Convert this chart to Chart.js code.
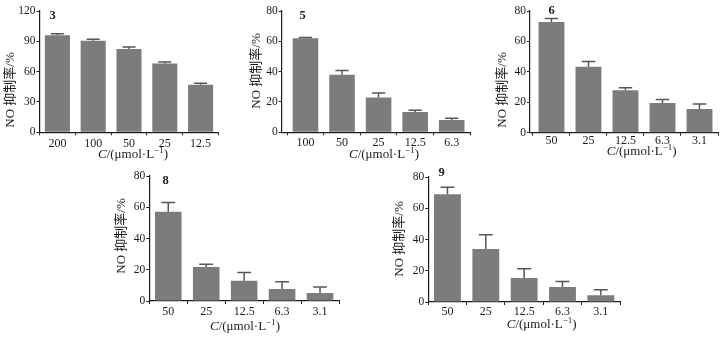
<!DOCTYPE html>
<html>
<head>
<meta charset="utf-8">
<script src="https://cdn.jsdelivr.net/npm/chart.js@4.4.0/dist/chart.umd.min.js"></script>
<style>
  html, body { margin: 0; padding: 0; background: #fff; }
  #wrap { position: relative; width: 723px; height: 340px; overflow: hidden; }
  #wrap canvas { position: absolute; }
</style>
</head>
<body>
<div id="wrap"></div>
<script>
// --- 화합물별 NO 억제율 (값 / 표준편차) ---
const conc3 = ['200', '100', '50', '25', '12.5'];
const inhib3 = [96, 90.5, 82.5, 68, 47];
const sd3 = [1.5, 1.5, 2, 1.5, 1.5];

const conc5 = ['100', '50', '25', '12.5', '6.3'];
const inhib5 = [62, 38, 23, 13.4, 8.1];
const sd5 = [0.5, 2.7, 3, 1.1, 1.1];

const conc6 = ['50', '25', '12.5', '6.3', '3.1'];
const inhib6 = [72.7, 43.3, 27.9, 19.6, 15.6];
const sd6 = [2.3, 3.5, 1.6, 2.2, 3.3];

const conc8 = ['50', '25', '12.5', '6.3', '3.1'];
const inhib8 = [57.2, 21.8, 13, 7.7, 5.1];
const sd8 = [5.9, 1.7, 5.3, 4.7, 3.9];

const conc9 = ['50', '25', '12.5', '6.3', '3.1'];
const inhib9 = [69, 34, 15.3, 9.6, 4.3];
const sd9 = [4.5, 9, 6, 3.6, 3.6];

// y축 눈금 (최대값, 간격)
const yTicks3 = [120, 30];
const yTicks58 = [80, 20];

const Y_TITLE = 'NO 抑制率/%';

const SERIF = '"Liberation Serif", "Times New Roman", "Noto Sans CJK SC", serif';
const BAR_COLOR = '#7c7c7c';
const ERR_COLOR = '#575757';
const AXIS_COLOR = '#1c1c1c';
const TEXT_COLOR = '#1a1a1a';

// 에러바 (위쪽만, 캡 포함)
const errorBarPlugin = {
  id: 'errorBars',
  afterDatasetsDraw(chart, args, opts) {
    const ctx = chart.ctx;
    const yScale = chart.scales.y;
    const meta = chart.getDatasetMeta(0);
    const pts = chart.data.datasets[0].data;
    ctx.save();
    ctx.strokeStyle = ERR_COLOR;
    ctx.lineWidth = 1.5;
    meta.data.forEach((bar, i) => {
      const top = yScale.getPixelForValue(pts[i].y + opts.errors[i]);
      const half = bar.width * 0.26;
      ctx.beginPath();
      ctx.moveTo(bar.x, bar.y);
      ctx.lineTo(bar.x, top);
      ctx.moveTo(bar.x - half, top);
      ctx.lineTo(bar.x + half, top);
      ctx.stroke();
    });
    ctx.restore();
  }
};

// 패널 번호 + 축 제목 (x축: C 이탤릭, -1 위첨자)
const panelTextPlugin = {
  id: 'panelText',
  afterDraw(chart, args, opts) {
    const { ctx, chartArea } = chart;
    ctx.save();
    ctx.fillStyle = TEXT_COLOR;
    ctx.textBaseline = 'middle';
    ctx.textAlign = 'center';
    ctx.font = 'bold 12.5px ' + SERIF;
    ctx.fillText(opts.tag, chartArea.left + opts.tagDx, chartArea.top + opts.tagDy);

    // y축 제목 (회전)
    ctx.save();
    ctx.translate(chartArea.left + opts.yTitleDx, chartArea.top + opts.yTitleDy);
    ctx.rotate(-Math.PI / 2);
    ctx.font = '13px ' + SERIF;
    ctx.fillText(Y_TITLE, 0, 0);
    ctx.restore();

    const parts = [
      { t: 'C', f: 'italic 13px ' + SERIF, dy: 0 },
      { t: '/(μmol·L', f: '13px ' + SERIF, dy: 0 },
      { t: '−1', f: '9px ' + SERIF, dy: -4 },
      { t: ')', f: '13px ' + SERIF, dy: 0 }
    ];
    let total = 0;
    parts.forEach(p => { ctx.font = p.f; p.w = ctx.measureText(p.t).width; total += p.w; });
    let x = chartArea.left + opts.titleDx - total / 2;
    const y = chartArea.bottom + opts.titleDy;
    ctx.textAlign = 'left';
    parts.forEach(p => {
      ctx.font = p.f;
      ctx.fillText(p.t, x, y + p.dy);
      x += p.w;
    });
    ctx.restore();
  }
};

/**
 * 패널 하나 그리기
 * g: 플롯 영역 위치 (L, R, T, B), 축 제목 중심, 번호 위치
 */
function makePanel(labels, values, errors, yAxis, tag, g) {
  const padTop = 10;
  const canvasLeft = Math.round(g.yTitle[0] - 8);
  const canvasTop = Math.round(g.T) - padTop;
  const canvasRight = Math.min(723, Math.round(g.R) + 5);
  const canvasBottom = Math.round(g.B) + 36;
  const yAxisW = g.L - canvasLeft;
  const xAxisH = canvasBottom - g.B;

  const canvas = document.createElement('canvas');
  canvas.width = canvasRight - canvasLeft;
  canvas.height = canvasBottom - canvasTop;
  canvas.style.left = canvasLeft + 'px';
  canvas.style.top = canvasTop + 'px';
  document.getElementById('wrap').appendChild(canvas);

  new Chart(canvas.getContext('2d'), {
    type: 'bar',
    data: {
      datasets: [{
        data: values.map((v, i) => ({ x: i, y: v })),
        backgroundColor: BAR_COLOR,
        borderWidth: 0,
        categoryPercentage: 1,
        barPercentage: 0.7
      }]
    },
    options: {
      responsive: false,
      animation: false,
      devicePixelRatio: 1,
      layout: { padding: { top: g.T - canvasTop, right: canvasRight - g.R, left: 0, bottom: 0 } },
      plugins: {
        legend: { display: false },
        tooltip: { enabled: false },
        errorBars: { errors: errors },
        panelText: {
          tag: tag,
          tagDx: g.tag[0] - g.L, tagDy: g.tag[1] - g.T,
          yTitleDx: g.yTitle[0] - g.L, yTitleDy: g.yTitle[1] - g.T,
          titleDx: g.xTitle[0] - g.L, titleDy: g.xTitle[1] - g.B
        }
      },
      scales: {
        x: {
          type: 'linear',
          min: g.xMin,
          max: labels.length - 0.5,
          offset: false,
          afterBuildTicks: s => { s.ticks = labels.map((_, i) => ({ value: i })); },
          afterFit: s => { s.height = xAxisH; },
          ticks: {
            callback: v => labels[v],
            font: { family: SERIF, size: 12, lineHeight: 1.2 },
            color: TEXT_COLOR,
            padding: g.xPad,
            maxRotation: 0,
            autoSkip: false
          },
          grid: { drawOnChartArea: false, tickLength: 3, color: AXIS_COLOR },
          border: { color: AXIS_COLOR, width: 1.2 }
        },
        y: {
          min: 0,
          max: yAxis[0],
          afterFit: s => { s.width = yAxisW; },
          ticks: {
            stepSize: yAxis[1],
            font: { family: SERIF, size: 11.5 },
            color: TEXT_COLOR,
            padding: 1
          },
          grid: { drawOnChartArea: false, tickLength: 3, color: AXIS_COLOR },
          border: { color: AXIS_COLOR, width: 1.2 }
        }
      }
    },
    plugins: [errorBarPlugin, panelTextPlugin]
  });
}

makePanel(conc3, inhib3, sd3, yTicks3, '3',
  { L: 39.5, R: 218.5, T: 11, B: 132.3, xMin: -0.5, xPad: 1,
    yTitle: [11, 90], xTitle: [133, 155], tag: [52.7, 15.7] });
makePanel(conc5, inhib5, sd5, yTicks58, '5',
  { L: 281.7, R: 470, T: 11, B: 132.3, xMin: -0.65, xPad: 0,
    yTitle: [256.5, 71], xTitle: [384, 155], tag: [302.7, 15.7] });
makePanel(conc6, inhib6, sd6, yTicks58, '6',
  { L: 530, R: 718, T: 11, B: 132.7, xMin: -0.58, xPad: -2,
    yTitle: [502.5, 90], xTitle: [641.7, 152], tag: [551.7, 11.2] });
makePanel(conc8, inhib8, sd8, yTicks58, '8',
  { L: 149.3, R: 339, T: 176, B: 301, xMin: -0.5, xPad: 1,
    yTitle: [121.7, 236], xTitle: [245, 327], tag: [165.7, 180.7] });
makePanel(conc9, inhib9, sd9, yTicks58, '9',
  { L: 428.3, R: 620, T: 177, B: 302, xMin: -0.5, xPad: 0,
    yTitle: [400, 239], xTitle: [541.7, 325], tag: [441.7, 172.3] });
</script>
</body>
</html>
